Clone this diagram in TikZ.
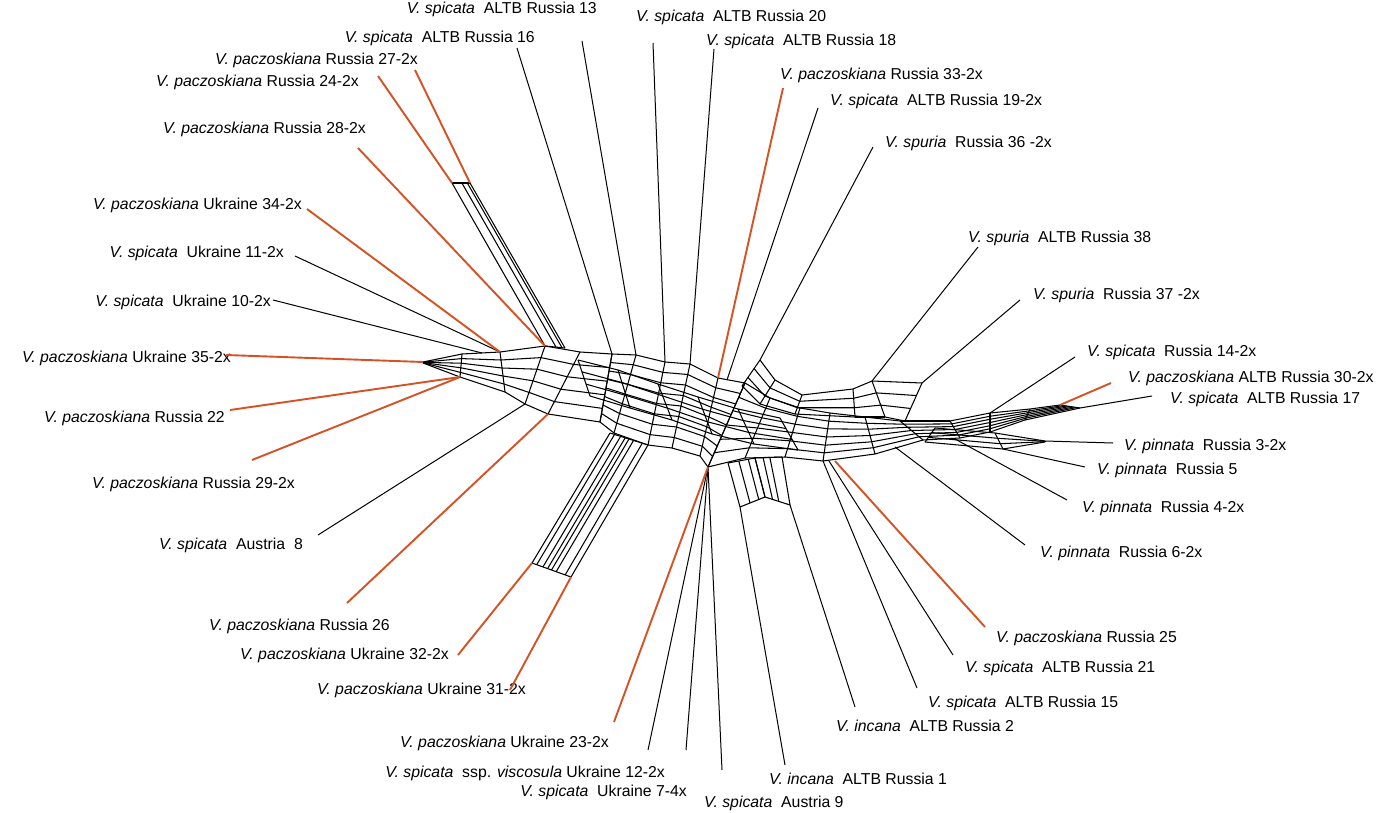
\documentclass[tikz,border=0pt]{standalone}
\usepackage{fontspec}
\setmainfont{Liberation Sans}
\usetikzlibrary{calc}
\definecolor{leaforange}{RGB}{212,82,36}
\tikzset{
 net/.style={black, line width=1.05pt, line join=round},
 leaf/.style={black, line width=1pt},
 oleaf/.style={leaforange, line width=1.9pt},
 labw/.style={font=\fontsize{15.8}{18}\selectfont, inner sep=0pt, anchor=base west},
 labe/.style={font=\fontsize{15.8}{18}\selectfont, inner sep=0pt, anchor=base east},
}
\newcommand\ribbon[3]{%
 \foreach \i in {1,...,#2}{\draw[net] (#1t\i) -- (#1b\i);}
 \pgfmathtruncatemacro\rbm{#2-1}
 \foreach \i in {1,...,\rbm}{%
   \pgfmathtruncatemacro\rbj{\i+1}
   \foreach \fr in {#3}{\draw[net] ($(#1t\i)!\fr!(#1b\i)$) -- ($(#1t\rbj)!\fr!(#1b\rbj)$);}}}
\begin{document}
\begin{tikzpicture}[x=1pt,y=-1pt]
\fill[white] (0,0) rectangle (1378,813);
\useasboundingbox (0,0) rectangle (1378,813);

% ---------- network stations ----------
% left block A
\coordinate (At1) at (423,362); \coordinate (Ab1) at (423,363);
\coordinate (At2) at (462,354); \coordinate (Ab2) at (460,377);
\coordinate (At3) at (500,352); \coordinate (Ab3) at (505,392);
\coordinate (At4) at (545,346); \coordinate (Ab4) at (525,404);
\coordinate (At5) at (580,352); \coordinate (Ab5) at (548,414);
\coordinate (At6) at (612,354); \coordinate (Ab6) at (600,422);
% centre B
\coordinate (Bt1) at (612,354); \coordinate (Bb1) at (600,422);
\coordinate (Bt2) at (636,355); \coordinate (Bb2) at (614,433);
\coordinate (Bt3) at (665,362); \coordinate (Bb3) at (648,445);
\coordinate (Bt4) at (690,364); \coordinate (Bb4) at (672,448);
\coordinate (Bt5) at (718,378); \coordinate (Bb5) at (700,456);
\coordinate (Bt6) at (745,383); \coordinate (Bb6) at (708,467);
% diagonal strands across the centre P
\coordinate (Pt1) at (578,360); \coordinate (Pb1) at (590,396);
\coordinate (Pt2) at (618,370); \coordinate (Pb2) at (630,408);
\coordinate (Pt3) at (658,384); \coordinate (Pb3) at (672,420);
\coordinate (Pt4) at (698,397); \coordinate (Pb4) at (712,434);
\coordinate (Pt5) at (738,409); \coordinate (Pb5) at (754,444);
\coordinate (Pt6) at (780,418); \coordinate (Pb6) at (798,450);
% centre right C
\coordinate (Ct1) at (745,383); \coordinate (Cb1) at (708,467);
\coordinate (Ct2) at (770,398); \coordinate (Cb2) at (745,458);
\coordinate (Ct3) at (800,408); \coordinate (Cb3) at (785,457);
\coordinate (Ct4) at (830,413); \coordinate (Cb4) at (823,461);
\coordinate (Ct5) at (865,417); \coordinate (Cb5) at (875,454);
\coordinate (Ct6) at (900,421); \coordinate (Cb6) at (923,440);
\coordinate (Ct7) at (950,421); \coordinate (Cb7) at (960,438);
\coordinate (Ct8) at (990,413); \coordinate (Cb8) at (990,432);
% arch D
\coordinate (Dt1) at (760,360); \coordinate (Db1) at (742,386);
\coordinate (Dt2) at (775,380); \coordinate (Db2) at (760,404);
\coordinate (Dt3) at (802,395); \coordinate (Db3) at (795,414);
\coordinate (Dt4) at (853,389); \coordinate (Db4) at (855,417);
\coordinate (Dt5) at (872,381); \coordinate (Db5) at (885,417);
\coordinate (Dt6) at (922,383); \coordinate (Db6) at (905,421);
% right tail E
\coordinate (Et1) at (990,413); \coordinate (Eb1) at (990,432);
\coordinate (Et2) at (1030,409); \coordinate (Eb2) at (1025,420);
\coordinate (Et3) at (1060,405); \coordinate (Eb3) at (1080,408);
% lower right tail F
\coordinate (Ft1) at (935,428); \coordinate (Fb1) at (925,442);
\coordinate (Ft2) at (995,433); \coordinate (Fb2) at (1003,449);
\coordinate (Ft3) at (1045,441); \coordinate (Fb3) at (1045,442);
% lower-left band L
\coordinate (Lt1) at (610,433); \coordinate (Lb1) at (648,445);
\coordinate (Lt2) at (532,563); \coordinate (Lb2) at (571,577);
% upper bundle U
\coordinate (Ut1) at (452,183); \coordinate (Ub1) at (470,183);
\coordinate (Ut2) at (545,346); \coordinate (Ub2) at (565,348);
% bracket G/H
\coordinate (Gt1) at (728,463); \coordinate (Gb1) at (755,458);
\coordinate (Gt2) at (740,507); \coordinate (Gb2) at (765,497);
\coordinate (Ht1) at (755,458); \coordinate (Hb1) at (782,457);
\coordinate (Ht2) at (765,497); \coordinate (Hb2) at (790,505);

\ribbon{A}{6}{0,.2,.4,.6,.8,1}
\ribbon{B}{6}{0,.125,.25,.375,.5,.625,.75,.875,1}
\ribbon{P}{6}{0,.33,.67,1}
\ribbon{C}{8}{0,.17,.33,.5,.67,.83,1}
\ribbon{D}{6}{0,.33,.67,1}
\ribbon{E}{3}{0,.17,.33,.5,.67,.83,1}
\ribbon{F}{3}{0,.33,.67,1}
\ribbon{L}{2}{0,.12,.28,.4,.5,.62,.85,1}
\ribbon{U}{2}{0,.55,.85,1}
\ribbon{G}{2}{0,.4,.75,1}
\ribbon{H}{2}{0,.3,.55,1}

% ---------- leaf attachment points ----------
\coordinate (i10) at (482,353);
\coordinate (i19) at (727,380);
\coordinate (i25) at (835,461);
\coordinate (i21) at (829,461);
\coordinate (i6) at (895,447);
\coordinate (i4) at (955,439);

% ---------- labels ----------
\node[labe] (l13) at (597,14) {\textit{V. spicata}~ ALTB Russia 13};
\node[labw] (l20) at (636,22) {\textit{V. spicata}~ ALTB Russia 20};
\node[labw] (l18) at (706,46) {\textit{V. spicata}~ ALTB Russia 18};
\node[labw] (l33) at (780,80) {\textit{V. paczoskiana} Russia 33-2x};
\node[labw] (l19) at (830,106) {\textit{V. spicata}~ ALTB Russia 19-2x};
\node[labw] (l36) at (885,148) {\textit{V. spuria}~ Russia 36 -2x};
\node[labw] (l38) at (968,242) {\textit{V. spuria}~ ALTB Russia 38};
\node[labw] (l37) at (1033,299) {\textit{V. spuria}~ Russia 37 -2x};
\node[labw] (l14) at (1087,356) {\textit{V. spicata}~ Russia 14-2x};
\node[labw] (l30) at (1128,382) {\textit{V. paczoskiana} ALTB Russia 30-2x};
\node[labw] (l17) at (1170,403) {\textit{V. spicata}~ ALTB Russia 17};
\node[labw] (l3) at (1124,450) {\textit{V. pinnata}~ Russia 3-2x};
\node[labw] (l5) at (1097,474) {\textit{V. pinnata}~ Russia 5};
\node[labw] (l4) at (1082,512) {\textit{V. pinnata}~ Russia 4-2x};
\node[labw] (l6) at (1040,557) {\textit{V. pinnata}~ Russia 6-2x};
\node[labw] (l25) at (996,642) {\textit{V. paczoskiana} Russia 25};
\node[labw] (l21) at (965,672) {\textit{V. spicata}~ ALTB Russia 21};
\node[labw] (l15) at (928,707) {\textit{V. spicata}~ ALTB Russia 15};
\node[labw] (l2) at (836,731) {\textit{V. incana}~ ALTB Russia 2};
\node[labw] (l1) at (769,784) {\textit{V. incana}~ ALTB Russia 1};
\node[labw] (l9) at (704,807) {\textit{V. spicata}~ Austria 9};
\node[labe] (l7) at (687,796) {\textit{V. spicata}~ Ukraine 7-4x};
\node[labe] (l12) at (665,777) {\textit{V. spicata}~ ssp. \textit{viscosula} Ukraine 12-2x};
\node[labe] (l23) at (609,747) {\textit{V. paczoskiana} Ukraine 23-2x};
\node[labe] (l31) at (526,694) {\textit{V. paczoskiana} Ukraine 31-2x};
\node[labe] (l32) at (449,659) {\textit{V. paczoskiana} Ukraine 32-2x};
\node[labe] (l26) at (390,630) {\textit{V. paczoskiana} Russia 26};
\node[labe] (l8) at (303,549) {\textit{V. spicata}~ Austria~ 8};
\node[labe] (l29) at (295,488) {\textit{V. paczoskiana} Russia 29-2x};
\node[labe] (l22) at (225,422) {\textit{V. paczoskiana} Russia 22};
\node[labe] (l35) at (231,362) {\textit{V. paczoskiana} Ukraine 35-2x};
\node[labe] (l10) at (271,306) {\textit{V. spicata}~ Ukraine 10-2x};
\node[labe] (l11) at (284,257) {\textit{V. spicata}~ Ukraine 11-2x};
\node[labe] (l34) at (302,209) {\textit{V. paczoskiana} Ukraine 34-2x};
\node[labe] (l28) at (366,134) {\textit{V. paczoskiana} Russia 28-2x};
\node[labe] (l24) at (359,87) {\textit{V. paczoskiana} Russia 24-2x};
\node[labe] (l27) at (418,65) {\textit{V. paczoskiana} Russia 27-2x};
\node[labe] (l16) at (535,43) {\textit{V. spicata}~ ALTB Russia 16};

% ---------- outer ends of leaf edges ----------
\coordinate (o13) at (582,41);   \coordinate (o20) at (653,43);
\coordinate (o18) at (714,49);   \coordinate (o33) at (783,88);
\coordinate (o19) at (818,108);  \coordinate (o36) at (873,147);
\coordinate (o38) at (978,247);  \coordinate (o37) at (1020,300);
\coordinate (o14) at (1075,357); \coordinate (o30) at (1111,383);
\coordinate (o17) at (1152,396); \coordinate (o3) at (1113,443);
\coordinate (o5) at (1085,467);  \coordinate (o4) at (1067,500);
\coordinate (o6) at (1025,545);  \coordinate (o25) at (985,627);
\coordinate (o21) at (953,655);  \coordinate (o15) at (917,688);
\coordinate (o2) at (855,707);   \coordinate (o1) at (785,765);
\coordinate (o9) at (722,770);   \coordinate (o7) at (686,750);
\coordinate (o12) at (648,750);  \coordinate (o23) at (614,722);
\coordinate (o31) at (510,690);  \coordinate (o32) at (458,655);
\coordinate (o26) at (347,603);  \coordinate (o8) at (318,535);
\coordinate (o29) at (252,460);  \coordinate (o22) at (230,410);
\coordinate (o35) at (226,355);  \coordinate (o10) at (273,300);
\coordinate (o11) at (295,256);  \coordinate (o34) at (307,209);
\coordinate (o28) at (358,148);  \coordinate (o24) at (378,76);
\coordinate (o27) at (415,70);   \coordinate (o16) at (517,48);

% ---------- leaf edges ----------
\draw[leaf] (o13) -- (Bt2);
\draw[leaf] (o20) -- (Bt3);
\draw[leaf] (o18) -- (Bt4);
\draw[oleaf] (o33) -- (Bt5);
\draw[leaf] (o19) -- (i19);
\draw[leaf] (o36) -- (Dt1);
\draw[leaf] (o38) -- (Dt5);
\draw[leaf] (o37) -- (Dt6);
\draw[leaf] (o14) -- (Et1);
\draw[oleaf] (o30) -- (Et3);
\draw[leaf] (o17) -- (Eb3);
\draw[leaf] (o3) -- (Ft3);
\draw[leaf] (o5) -- (Fb2);
\draw[leaf] (o4) -- (i4);
\draw[leaf] (o6) -- (i6);
\draw[oleaf] (o25) -- (i25);
\draw[leaf] (o21) -- (i21);
\draw[leaf] (o15) -- (Cb4);
\draw[leaf] (o2) -- (Hb2);
\draw[leaf] (o1) -- (Gt2);
\draw[leaf] (o9) -- (Bb6);
\draw[leaf] (o7) -- (Bb6);
\draw[leaf] (o12) -- (Bb6);
\draw[oleaf] (o23) -- (Bb6);
\draw[oleaf] (o31) -- (Lb2);
\draw[oleaf] (o32) -- (Lt2);
\draw[oleaf] (o26) -- (Ab5);
\draw[leaf] (o8) -- (Ab4);
\draw[oleaf] (o29) -- (Ab2);
\draw[oleaf] (o22) -- (Ab2);
\draw[oleaf] (o35) -- (At1);
\draw[leaf] (o10) -- (i10);
\draw[leaf] (o11) -- (At3);
\draw[oleaf] (o34) -- (At3);
\draw[oleaf] (o28) -- (At4);
\draw[oleaf] (o24) -- (Ut1);
\draw[oleaf] (o27) -- (Ub1);
\draw[leaf] (o16) -- (Bt1);
\end{tikzpicture}
\end{document}
